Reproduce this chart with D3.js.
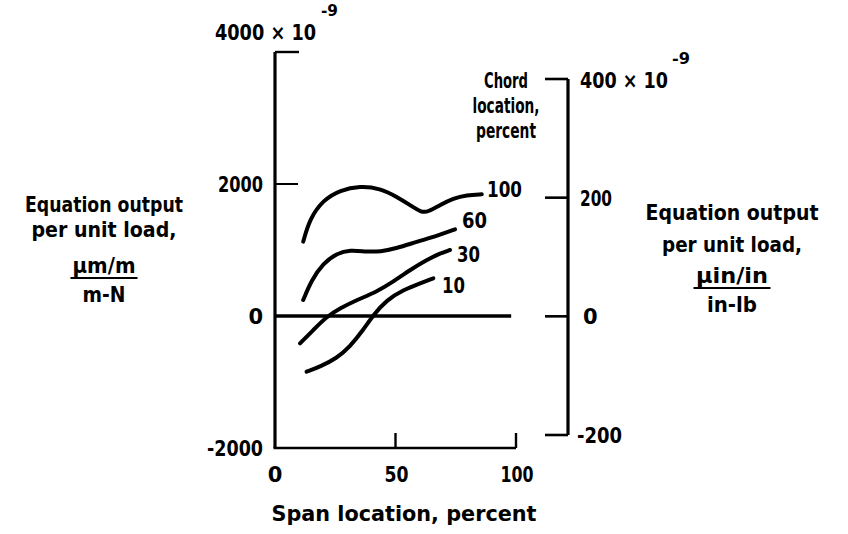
<!DOCTYPE html>
<html><head><meta charset="utf-8">
<script src="https://cdn.jsdelivr.net/npm/d3@7"></script>
<style>
html,body{margin:0;padding:0;background:#fff;}
svg text{font-family:"DejaVu Sans","Liberation Sans",sans-serif;font-weight:bold;fill:#000;}
</style></head>
<body><svg id="c" width="848" height="534"></svg>
<script>
// ---- data ----
const spanTicks = [0, 50, 100];
const leftTicks = [-2000, 0, 2000];
const rightTicks = [-200, 0, 200];
const chordLabels = ["100", "60", "30", "10"];

const span100 = [11.7, 14.5, 20, 27, 35.3, 43.6, 50.5, 56, 60.9, 63.6, 68.5, 74, 79.5, 85.8];
const out100  = [1126, 1480, 1757, 1909, 1970, 1935, 1808, 1682, 1565, 1580, 1682, 1783, 1833, 1844];
const span60  = [11.7, 15.2, 20, 25.6, 31.1, 38, 43.6, 50.5, 58.8, 67.1, 74.7];
const out60   = [242, 545, 798, 950, 1000, 974, 974, 1026, 1126, 1212, 1313];
const span30  = [10.4, 15.9, 21.4, 27, 33.9, 42.2, 49.1, 56, 62.9, 68.5, 72.6];
const out30   = [-414, -212, -11, 117, 242, 368, 520, 697, 848, 950, 1000];
const span10  = [13.1, 18.7, 25.6, 31.1, 36.6, 40.8, 46.3, 53.2, 60.2, 65.7];
const out10   = [-844, -768, -641, -465, -212, 15, 242, 394, 495, 571];

const series = [
  {label: chordLabels[0], xs: span100, ys: out100},
  {label: chordLabels[1], xs: span60, ys: out60},
  {label: chordLabels[2], xs: span30, ys: out30},
  {label: chordLabels[3], xs: span10, ys: out10}
];

// ---- scales ----
const svg = d3.select("#c");
const x = d3.scaleLinear().domain([0, 100]).range([275, 516]);
const yL = d3.scaleLinear().domain([-2000, 4000]).range([448, 52]);
const yR = d3.scaleLinear().domain([-200, 400]).range([435, 79]);

const FS = 21;
function txt(xp, yp, s, w, anchor, fs) {
  const t = svg.append("text").attr("x", xp).attr("y", yp).attr("font-size", fs || FS)
    .attr("text-anchor", anchor || "start").text(s);
  if (w) t.attr("textLength", w).attr("lengthAdjust", "spacingAndGlyphs");
  return t;
}
const fmt = d => d < 0 ? "-" + Math.abs(d) : String(d);

// left axis
svg.append("line").attr("x1", x(0)).attr("x2", x(0)).attr("y1", yL(4000)).attr("y2", yL(-2000))
  .attr("stroke", "#000").attr("stroke-width", 3.2);
svg.append("line").attr("x1", x(0)).attr("x2", x(0) + 24).attr("y1", yL(4000)).attr("y2", yL(4000))
  .attr("stroke", "#000").attr("stroke-width", 2.4);
svg.append("line").attr("x1", x(0)).attr("x2", x(0) + 23).attr("y1", yL(2000)).attr("y2", yL(2000))
  .attr("stroke", "#000").attr("stroke-width", 2);
// zero line
svg.append("line").attr("x1", x(0)).attr("x2", x(98)).attr("y1", yL(0)).attr("y2", yL(0))
  .attr("stroke", "#000").attr("stroke-width", 3.4);
// bottom axis
svg.append("line").attr("x1", x(0) - 1.5).attr("x2", x(100)).attr("y1", yL(-2000)).attr("y2", yL(-2000))
  .attr("stroke", "#000").attr("stroke-width", 2.6);
svg.selectAll(".xt").data(spanTicks.filter(d => d > 0)).enter().append("line")
  .attr("x1", d => x(d)).attr("x2", d => x(d)).attr("y1", yL(-2000)).attr("y2", yL(-2000) - 15)
  .attr("stroke", "#000").attr("stroke-width", 2.4);

// left tick labels
const leftW = {"-2000": 56, "0": 0, "2000": 45};
leftTicks.forEach(d => txt(263, yL(d) + 8, fmt(d), leftW[fmt(d)] || null, "end"));
txt(215, 40, "4000 × 10", 101);
txt(321, 16, "-9", 17, "start", 16);

// x tick labels
const xW = {"0": 0, "50": 24, "100": 33};
spanTicks.forEach(d => txt(x(d) + (d === 0 ? 0 : 1), 482, String(d), xW[String(d)] || null, "middle"));
txt(404, 521, "Span location, percent", 265, "middle");

// right axis
const xr = 568;
svg.append("line").attr("x1", xr).attr("x2", xr).attr("y1", yR(400)).attr("y2", yR(-200))
  .attr("stroke", "#000").attr("stroke-width", 3.2);
svg.selectAll(".rt").data([400].concat(rightTicks)).enter().append("line")
  .attr("x1", xr - 23).attr("x2", xr).attr("y1", d => yR(d)).attr("y2", d => yR(d))
  .attr("stroke", "#000").attr("stroke-width", 2.6);
const rW = {"-200": 45, "0": 0, "200": 32};
rightTicks.forEach(d => txt(d < 0 ? 577 : (d === 0 ? 583 : 580), yR(d) + 8, fmt(d), rW[fmt(d)] || null));
txt(580, 88, "400 × 10", 88);
txt(672, 64, "-9", 18, "start", 16);

// chord legend title
[["Chord", 44], ["location,", 67], ["percent", 60]].forEach((s, i) => {
  txt(506, 88 + i * 25, s[0], s[1], "middle");
});

// curves
const line = d3.line().x(d => x(d[0])).y(d => yL(d[1])).curve(d3.curveBasis);
series.forEach(s => {
  const pts = s.xs.map((v, i) => [v, s.ys[i]]);
  svg.append("path").attr("d", line(pts)).attr("fill", "none")
    .attr("stroke", "#000").attr("stroke-width", 4).attr("stroke-linecap", "round");
});

// curve labels
const labelPos = [[487, 197, 35], [462, 228, 25], [457, 262, 23], [442, 293, 23]];
series.forEach((s, i) => txt(labelPos[i][0], labelPos[i][1], s.label, labelPos[i][2]));

// side labels
function sideLabel(cx, lines, num, den, fracY, fracW) {
  lines.forEach(l => txt(cx, l[1], l[0], l[2], "middle"));
  txt(cx, fracY - 5, num[0], num[1], "middle");
  svg.append("line").attr("x1", cx - fracW / 2).attr("x2", cx + fracW / 2)
    .attr("y1", fracY).attr("y2", fracY).attr("stroke", "#000").attr("stroke-width", 2);
  txt(cx, fracY + 24, den[0], den[1], "middle");
}
sideLabel(104, [["Equation output", 212, 158], ["per unit load,", 237, 145]], ["\u00b5m/m", 63], ["m-N", 43], 278, 67);
sideLabel(732, [["Equation output", 220, 173], ["per unit load,", 252, 140]], ["\u00b5in/in", 72], ["in-lb", 50], 288, 77);
</script></body></html>
